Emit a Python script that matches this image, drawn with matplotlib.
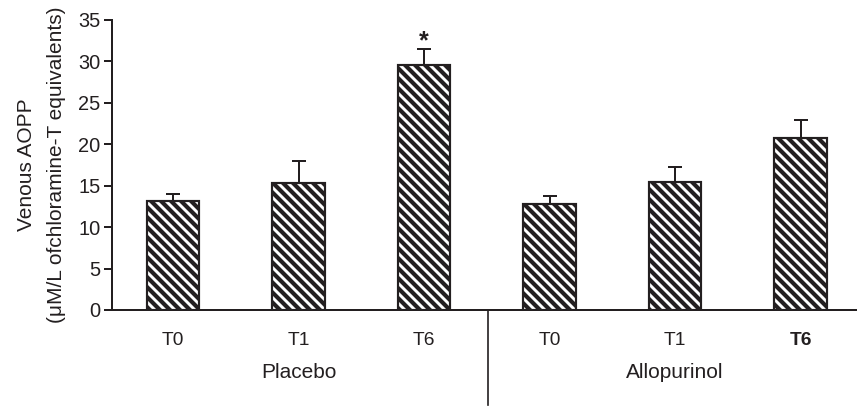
import matplotlib
matplotlib.use("Agg")
import matplotlib.pyplot as plt
import matplotlib.transforms as mtransforms

# values
groups = ["Placebo", "Allopurinol"]
times = ["T0", "T1", "T6", "T0", "T1", "T6"]
means = [13.2, 15.3, 29.6, 12.8, 15.4, 20.7]
sem = [0.8, 2.7, 1.9, 1.0, 1.9, 2.2]

ink = "#231f20"
plt.rcParams["font.family"] = ["Liberation Sans", "DejaVu Sans"]
plt.rcParams["hatch.linewidth"] = 2.5
plt.rcParams["hatch.color"] = ink

fig = plt.figure(figsize=(857 / 120, 408 / 120), dpi=120)
ax = fig.add_axes([0.1307, 0.2402, 0.8693, 0.7108])

pos = list(range(len(means)))
ax.bar(pos, means, width=0.42, color="white", edgecolor=ink,
       linewidth=1.3, hatch="\\\\\\\\", zorder=2)
ax.errorbar(pos, means, yerr=[[0] * len(sem), sem], fmt="none",
            ecolor=ink, elinewidth=1.2, capsize=4, capthick=1.2, zorder=1)

ax.set_xlim(-0.486, 5.45)
ax.set_ylim(0, 35)
ax.set_yticks(range(0, 36, 5))
ax.set_xticks(pos)
ax.set_xticklabels(times)
ax.get_xticklabels()[5].set_fontweight("bold")
ax.tick_params(axis="x", length=0, pad=13, labelsize=11.5, colors=ink)
ax.tick_params(axis="y", length=5, width=1.2, labelsize=12, colors=ink, pad=2)

for s in ["top", "right"]:
    ax.spines[s].set_visible(False)
for s in ["left", "bottom"]:
    ax.spines[s].set_linewidth(1.2)
    ax.spines[s].set_color(ink)

ax.set_ylabel("Venous AOPP\n(μM/L ofchloramine-T equivalents)",
              fontsize=12.5, color=ink, linespacing=1.75, labelpad=7)

# significance marker
ax.text(2, 32.4, "*", ha="center", va="center", fontsize=15,
        fontweight="bold", color=ink)

# group labels and divider below the axis
trans = mtransforms.blended_transform_factory(ax.transData, ax.transAxes)
ax.text(1, -0.215, groups[0], transform=trans, ha="center", va="center",
        fontsize=12.5, color=ink)
ax.text(4, -0.215, groups[1], transform=trans, ha="center", va="center",
        fontsize=12.5, color=ink)
ax.plot([2.51, 2.51], [0, -0.328], transform=trans, color=ink,
        linewidth=1.0, clip_on=False)

fig.savefig("out.png", dpi=120)
